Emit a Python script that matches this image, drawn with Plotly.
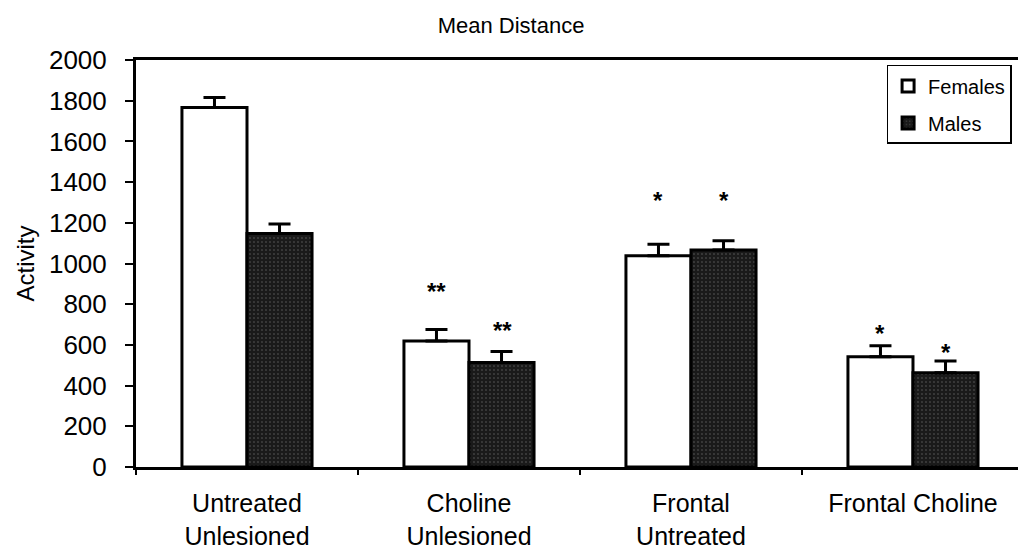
import plotly.graph_objects as go

categories = ["Untreated<br>Unlesioned", "Choline<br>Unlesioned", "Frontal<br>Untreated", "Frontal Choline"]
females = [1766, 619, 1038, 542]
females_err = [50, 57, 56, 54]
males = [1148, 513, 1066, 463]
males_err = [46, 54, 46, 58]
females_sig = ["", "**", "*", "*"]
females_sig_y = [None, 860, 1312, 658]
males_sig = ["", "**", "*", "*"]
males_sig_y = [None, 673, 1312, 565]

FONT = "Liberation Sans, Arial, sans-serif"

fig = go.Figure()
fig.add_trace(go.Bar(
    name="Females", x=categories, y=females,
    marker=dict(color="white", line=dict(color="black", width=3)),
    error_y=dict(type="data", array=females_err, arrayminus=[0]*4, symmetric=False,
                 color="black", thickness=3, width=11),
    legendgroup="f",
))
fig.add_trace(go.Bar(
    name="Males", x=categories, y=males,
    marker=dict(color="#1a1a1a", line=dict(color="black", width=3),
                pattern=dict(shape=".", fgcolor="#a0a0a0", bgcolor="#1a1a1a", size=4, solidity=0.12)),
    error_y=dict(type="data", array=males_err, arrayminus=[0]*4, symmetric=False,
                 color="black", thickness=3, width=11),
    legendgroup="m",
))

for i, cat in enumerate(categories):
    if females_sig[i]:
        fig.add_annotation(x=cat, y=females_sig_y[i], text="<b>" + females_sig[i] + "</b>", showarrow=False,
                           xshift=-33, font=dict(size=24, color="black", family=FONT))
    if males_sig[i]:
        fig.add_annotation(x=cat, y=males_sig_y[i], text="<b>" + males_sig[i] + "</b>", showarrow=False,
                           xshift=33, font=dict(size=24, color="black", family=FONT))

fig.update_layout(
    width=1018, height=556,
    margin=dict(l=136, r=0, t=60, b=89),
    paper_bgcolor="white", plot_bgcolor="white",
    barmode="group", bargap=0.414, bargroupgap=0,
    font=dict(family=FONT, color="black"),
    title=dict(text="Mean Distance", x=0.502, xref="container", xanchor="center",
               y=0.955, yanchor="middle",
               font=dict(size=22, color="black", family=FONT)),
    legend=dict(x=0.851, y=0.988, xanchor="left", yanchor="top",
                bgcolor="white", bordercolor="black", borderwidth=1.5,
                font=dict(size=20, color="black", family=FONT),
                tracegroupgap=8, traceorder="grouped"),
    xaxis=dict(range=[-0.5, 3.473], tickson="boundaries", ticks="outside", ticklen=5,
               tickwidth=1.5, tickcolor="black", showline=True, linecolor="black", linewidth=3,
               mirror=True, showgrid=False, ticklabelstandoff=12,
               tickfont=dict(size=25, color="black", family=FONT)),
    yaxis=dict(range=[0, 2000], dtick=200, ticks="outside", ticklen=8, tickwidth=1.5,
               tickcolor="black", showline=True, linecolor="black", linewidth=3,
               showgrid=False, zeroline=False, ticklabelstandoff=13,
               tickfont=dict(size=26, color="black", family=FONT),
               title=dict(text="Activity", font=dict(size=24, color="black", family=FONT), standoff=8)),
)

fig.write_html("out.html")
